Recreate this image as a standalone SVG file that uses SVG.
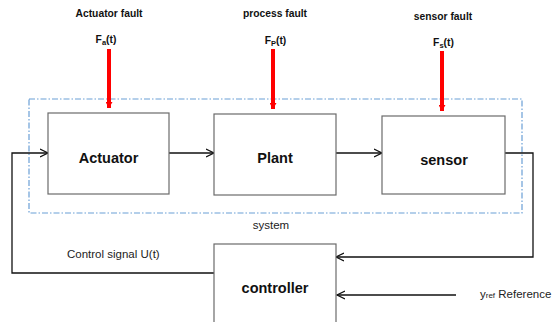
<svg xmlns="http://www.w3.org/2000/svg" width="553" height="322" viewBox="0 0 553 322">
<defs>
<style>
.box{fill:#fff;stroke:#6b6b6b;stroke-width:1.2}
.lbl{font-family:"Liberation Sans",Arial,sans-serif;font-weight:bold;font-size:14.5px;fill:#111;text-anchor:middle}
.flt{font-family:"Liberation Sans",Arial,sans-serif;font-weight:bold;font-size:10.3px;fill:#111;text-anchor:middle}
.txt{font-family:"Liberation Sans",Arial,sans-serif;font-size:11.5px;fill:#222}
.conn{fill:none;stroke:#111;stroke-width:1.3}
.fault{stroke:#ff0000;stroke-width:4;fill:none}
.sys{fill:none;stroke:#6a9fd6;stroke-width:1.2;stroke-dasharray:6 2 1.5 2}
</style>
<marker id="open" markerUnits="userSpaceOnUse" markerWidth="10" markerHeight="10" refX="8" refY="4.5" orient="auto" viewBox="0 0 10 9">
<path d="M0,0.5 L8,4.5 L0,8.5" fill="none" stroke="#111" stroke-width="1.3"/>
</marker>
<marker id="red" markerUnits="userSpaceOnUse" markerWidth="9" markerHeight="7" refX="6" refY="3.5" orient="auto" viewBox="0 0 6 7">
<path d="M0,0 L6,3.5 L0,7 Z" fill="#ff0000"/>
</marker>
</defs>
<rect width="553" height="322" fill="#fff"/>

<g id="system">
<rect class="sys" x="29" y="99" width="493" height="114"/>
<text class="txt" x="271" y="229" text-anchor="middle">system</text>
</g>

<g id="connectors">
<polyline class="conn" points="214,273 12,273 12,153 48,153" marker-end="url(#open)"/>
<line class="conn" x1="169" y1="153" x2="214" y2="153" marker-end="url(#open)"/>
<line class="conn" x1="336" y1="153" x2="382" y2="153" marker-end="url(#open)"/>
<polyline class="conn" points="505,153 533,153 533,257 336,257" marker-end="url(#open)"/>
<line class="conn" x1="456" y1="295" x2="337" y2="295" marker-end="url(#open)"/>
<line class="fault" x1="109" y1="49" x2="109" y2="108" marker-end="url(#red)"/>
<line class="fault" x1="273" y1="49" x2="273" y2="109" marker-end="url(#red)"/>
<line class="fault" x1="442" y1="51" x2="442" y2="111" marker-end="url(#red)"/>
</g>

<g id="actuator">
<rect class="box" x="48" y="113" width="121" height="81"/>
<text class="lbl" x="108.5" y="163">Actuator</text>
</g>
<g id="plant">
<rect class="box" x="214" y="114" width="122" height="81"/>
<text class="lbl" x="275" y="163">Plant</text>
</g>
<g id="sensor">
<rect class="box" x="382" y="116" width="123" height="78"/>
<text class="lbl" x="444" y="165">sensor</text>
</g>
<g id="controller">
<rect class="box" x="214" y="244" width="122" height="90"/>
<text class="lbl" x="275" y="293">controller</text>
</g>

<g id="actuator-fault">
<text class="flt" x="109" y="17">Actuator fault</text>
<text class="flt" x="106" y="43">F<tspan font-size="7.5px" dy="1.5">a</tspan><tspan dy="-1.5">(t)</tspan></text>
</g>
<g id="process-fault">
<text class="flt" x="275" y="17">process fault</text>
<text class="flt" x="275.5" y="44">F<tspan font-size="7.5px" dy="1.5">P</tspan><tspan dy="-1.5">(t)</tspan></text>
</g>
<g id="sensor-fault">
<text class="flt" x="443" y="20">sensor fault</text>
<text class="flt" x="443.5" y="46">F<tspan font-size="7.5px" dy="1.5">s</tspan><tspan dy="-1.5">(t)</tspan></text>
</g>

<g id="labels">
<text class="txt" x="67" y="258">Control signal U(t)</text>
<text class="txt" x="480" y="298">y<tspan font-size="8px">ref</tspan> Reference</text>
</g>
</svg>
